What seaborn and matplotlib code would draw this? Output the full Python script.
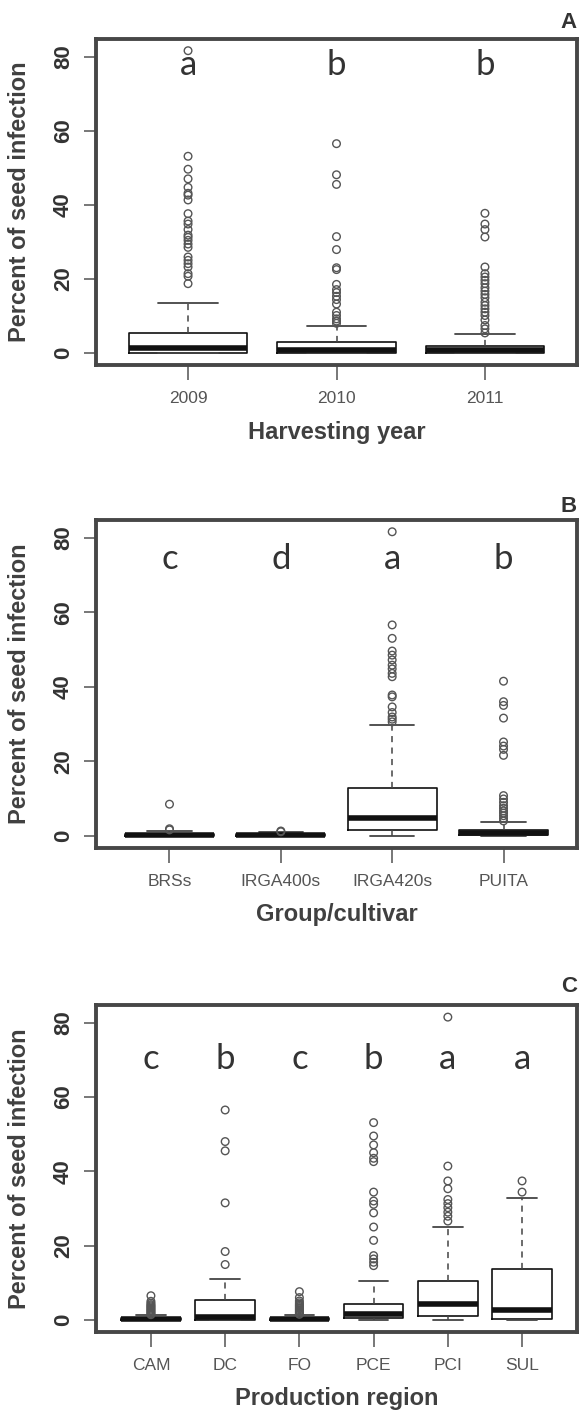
import numpy as np
import pandas as pd
import matplotlib
matplotlib.use("Agg")
import matplotlib.pyplot as plt
import seaborn as sns

# ---------------- data ----------------
# Panel A: harvesting year
years = ["2009", "2010", "2011"]
years_q1 = [0.0, 0.1, 0.1]
years_med = [1.2, 0.9, 0.7]
years_q3 = [5.4, 2.9, 2.0]
years_lo = [0.0, 0.0, 0.0]
years_hi = [13.5, 7.4, 5.0]
years_fliers = [
    [81.6, 53.1, 49.6, 47.0, 44.7, 43.1, 42.6, 41.3, 37.6, 35.6, 34.8, 33.3,
     31.8, 31.2, 30.4, 29.4, 28.5, 25.9, 25.0, 24.1, 23.2, 21.4, 20.7, 18.7],
    [56.5, 48.1, 45.5, 31.4, 27.9, 23.0, 22.5, 18.5, 17.1, 16.3, 15.3, 14.4,
     13.2, 11.0, 10.1, 9.2, 8.6, 8.0],
    [37.7, 34.8, 33.3, 31.3, 23.2, 21.4, 20.5, 19.6, 18.7, 17.6, 16.7, 15.8,
     14.9, 13.7, 12.8, 11.9, 11.0, 10.1, 8.9, 7.4, 6.5, 5.4],
]
years_letters = ["a", "b", "b"]

# Panel B: group / cultivar
groups = ["BRSs", "IRGA400s", "IRGA420s", "PUITA"]
groups_q1 = [0.0, 0.0, 1.6, 0.1]
groups_med = [0.2, 0.2, 4.7, 0.7]
groups_q3 = [0.6, 0.6, 12.8, 1.6]
groups_lo = [0.0, 0.0, 0.0, 0.0]
groups_hi = [1.2, 0.9, 29.7, 3.6]
groups_fliers = [
    [1.6, 1.9, 8.5],
    [1.1, 1.3],
    [81.6, 56.6, 53.0, 49.6, 48.5, 47.2, 45.8, 44.8, 43.6, 42.7, 37.8, 37.3,
     34.6, 33.1, 31.9, 31.3, 30.6],
    [41.5, 36.0, 35.0, 31.6, 25.2, 24.1, 23.2, 21.6, 10.8, 9.9, 9.0, 8.1,
     7.4, 6.7, 6.1, 5.4, 4.7, 4.0],
]
groups_letters = ["c", "d", "a", "b"]

# Panel C: production region
regions = ["CAM", "DC", "FO", "PCE", "PCI", "SUL"]
regions_q1 = [0.0, 0.1, 0.0, 0.45, 1.1, 0.36]
regions_med = [0.2, 0.9, 0.2, 1.5, 4.2, 2.7]
regions_q3 = [0.5, 5.4, 0.6, 4.2, 10.5, 13.7]
regions_lo = [0.0, 0.0, 0.0, 0.0, 0.0, 0.0]
regions_hi = [1.2, 11.0, 1.3, 10.5, 25.0, 32.9]
regions_fliers = [
    [1.4, 1.7, 2.0, 2.3, 2.6, 2.9, 3.2, 3.5, 3.8, 4.1, 4.5, 5.0, 6.5],
    [14.9, 18.4, 31.5, 45.5, 48.0, 56.5],
    [1.5, 1.8, 2.1, 2.4, 2.7, 3.0, 3.3, 3.6, 3.9, 4.2, 4.6, 5.1, 6.0, 7.6],
    [53.1, 49.5, 47.1, 45.0, 43.5, 42.6, 34.4, 32.0, 31.1, 28.8, 25.0, 21.4,
     17.3, 16.4, 15.5, 14.6],
    [81.5, 41.4, 37.4, 35.3, 32.4, 31.3, 30.2, 29.0, 27.9, 26.6],
    [37.4, 34.4],
]
regions_letters = ["c", "b", "c", "b", "a", "a"]

yticks = [0, 20, 40, 60, 80]
ylabel = "Percent of seed infection"

panels = [
    dict(tag="A", cats=years, q1=years_q1, med=years_med, q3=years_q3,
         lo=years_lo, hi=years_hi, fl=years_fliers, let=years_letters,
         let_y=75.0, xlabel="Harvesting year"),
    dict(tag="B", cats=groups, q1=groups_q1, med=groups_med, q3=groups_q3,
         lo=groups_lo, hi=groups_hi, fl=groups_fliers, let=groups_letters,
         let_y=71.5, xlabel="Group/cultivar"),
    dict(tag="C", cats=regions, q1=regions_q1, med=regions_med, q3=regions_q3,
         lo=regions_lo, hi=regions_hi, fl=regions_fliers, let=regions_letters,
         let_y=67.4, xlabel="Production region"),
]

# ---------------- styling ----------------
sns.set_theme(style="ticks")
plt.rcParams["font.family"] = ["Liberation Sans", "DejaVu Sans"]

W, H = 579, 1413
fig = plt.figure(figsize=(W / 100, H / 100), dpi=100)

# frame pixel boxes (left, top, right, bottom) and panel letter centres
frames = [(96, 39, 577, 365), (96, 520, 577, 848), (96, 1005, 577, 1332)]
tag_y = [22, 507, 986]

frame_col = "#474747"
for p, (l, t, r, b), ty in zip(panels, frames, tag_y):
    ax = fig.add_axes([l / W, 1 - b / H, (r - l) / W, (b - t) / H])
    n = len(p["cats"])
    pos = list(range(1, n + 1))
    stats = [dict(med=p["med"][i], q1=p["q1"][i], q3=p["q3"][i],
                  whislo=p["lo"][i], whishi=p["hi"][i], fliers=[],
                  label=p["cats"][i]) for i in range(n)]
    ax.bxp(stats, positions=pos, widths=0.8, capwidths=0.4,
           showfliers=False, patch_artist=False,
           boxprops=dict(color="#111111", linewidth=1.2),
           medianprops=dict(color="#111111", linewidth=4.0,
                            solid_capstyle="butt"),
           whiskerprops=dict(color="#444444", linewidth=1.1,
                             linestyle=(0, (4, 3.5))),
           capprops=dict(color="#444444", linewidth=1.3))
    fl_df = pd.DataFrame([(pos[i], v) for i in range(n) for v in p["fl"][i]],
                         columns=["pos", "val"])
    sns.scatterplot(data=fl_df, x="pos", y="val", ax=ax, marker="o",
                    s=30, facecolor="none", edgecolor="#555555",
                    linewidth=1.0, zorder=5, legend=False)
    for i, letter in enumerate(p["let"]):
        ax.text(pos[i], p["let_y"], letter, ha="center", va="baseline",
                fontsize=25, color="#333333", family=["Lato", "DejaVu Sans"])

    ax.set_xlim(0.5 - 0.04 * n, n + 0.5 + 0.04 * n)
    ax.set_ylim(-3.26, 84.76)
    ax.set_xticks(pos)
    ax.set_xticklabels(p["cats"])
    ax.set_yticks(yticks)
    ax.set_yticklabels([str(v) for v in yticks])
    for sp in ax.spines.values():
        sp.set_visible(True)
        sp.set_color(frame_col)
        sp.set_linewidth(2.8)
    ax.tick_params(axis="y", direction="out", length=9, width=1.4,
                   color="#777777", pad=7, labelsize=16, labelcolor="#333333",
                   labelrotation=90, left=True)
    for lab in ax.get_yticklabels():
        lab.set_fontweight("bold")
        lab.set_va("center")
    ax.tick_params(axis="x", direction="out", length=11, width=1.4,
                   color="#777777", pad=8, labelsize=12.5, labelcolor="#555555",
                   bottom=True)
    ax.set_xlabel(p["xlabel"], fontsize=17, fontweight="bold", color="#404040")
    ax.set_ylabel(ylabel, fontsize=17, fontweight="bold", color="#404040")
    hpx = b - t
    ax.xaxis.set_label_coords(0.5, -67 / hpx)
    ax.yaxis.set_label_coords((20 - l) / (r - l), 0.5)
    ax.xaxis.label.set_va("center")
    ax.yaxis.label.set_va("center")
    ax.set_facecolor("white")
    fig.text(577 / W, 1 - ty / H, p["tag"], ha="right", va="center",
             fontsize=16, fontweight="bold", color="#333333")

fig.savefig("out.png", dpi=100, facecolor="white")
